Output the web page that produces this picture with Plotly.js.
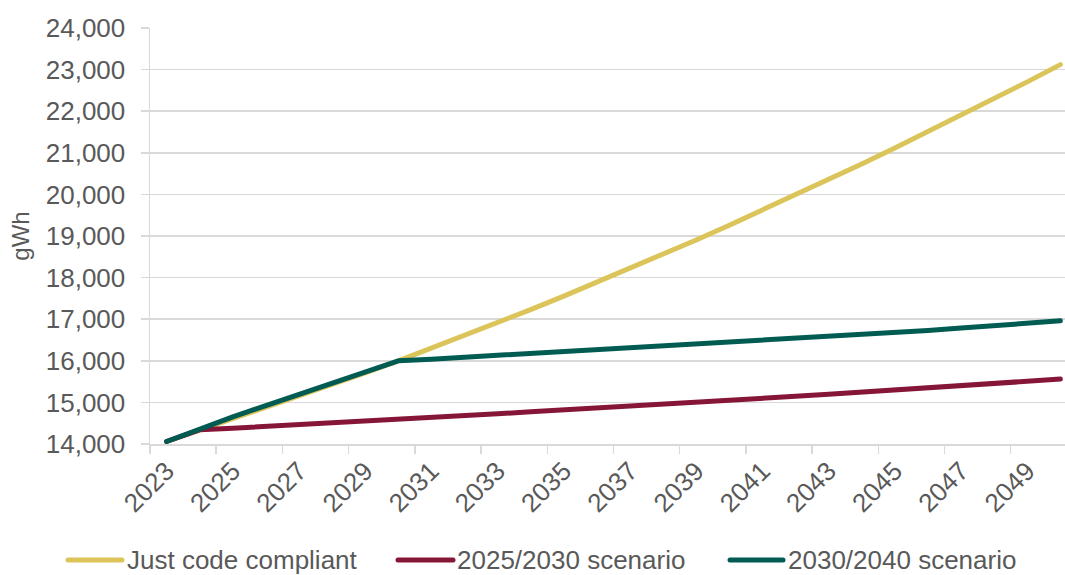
<!DOCTYPE html>
<html>
<head>
<meta charset="utf-8">
<script src="https://cdn.plot.ly/plotly-3.0.1.min.js"></script>
<style>
  html, body { margin: 0; padding: 0; background: #ffffff; }
  #chart { width: 1065px; height: 575px; }
  .scatterlayer path.js-line { stroke-linecap: round; stroke-linejoin: round; }
  .shapelayer path { stroke-linecap: round; }
</style>
</head>
<body>
<div id="chart"></div>
<script>
// Annual electricity demand projections (gWh), 2023-2050
const years = [2023, 2024, 2025, 2026, 2027, 2028, 2029, 2030, 2031, 2032,
               2033, 2034, 2035, 2036, 2037, 2038, 2039, 2040, 2041, 2042,
               2043, 2044, 2045, 2046, 2047, 2048, 2049, 2050];

const seriesNames = ["Just code compliant", "2025/2030 scenario", "2030/2040 scenario"];

const justCodeCompliant = [14060, 14330, 14600, 14870, 15150, 15430, 15710, 16000, 16300, 16600,
                           16915, 17230, 17555, 17885, 18220, 18560, 18905, 19260, 19620, 19985,
                           20355, 20730, 21115, 21505, 21900, 22300, 22705, 23120];

const scenario2025_2030 = [14060, 14340, 14380, 14420, 14460, 14500, 14545, 14590, 14635, 14680,
                           14725, 14775, 14825, 14870, 14915, 14960, 15005, 15050, 15095, 15145,
                           15195, 15245, 15295, 15345, 15400, 15450, 15505, 15560];

const scenario2030_2040 = [14060, 14370, 14650, 14925, 15200, 15470, 15740, 16000, 16040, 16085,
                           16125, 16165, 16210, 16250, 16295, 16340, 16385, 16430, 16478, 16526,
                           16575, 16625, 16675, 16730, 16786, 16842, 16900, 16960];

const seriesColors = ["#DBC55B", "#861637", "#005B52"];

// Year labels every second year; tick marks sit between categories
const xTickVals = [2023, 2025, 2027, 2029, 2031, 2033, 2035, 2037, 2039, 2041, 2043, 2045, 2047, 2049];
const xTickText = ["2023", "2025", "2027", "2029", "2031", "2033", "2035", "2037", "2039", "2041", "2043", "2045", "2047", "2049"];
const xCategoryEdges = [2022.5, 2024.5, 2026.5, 2028.5, 2030.5, 2032.5, 2034.5, 2036.5, 2038.5, 2040.5, 2042.5, 2044.5, 2046.5, 2048.5];

const yTickVals = [14000, 15000, 16000, 17000, 18000, 19000, 20000, 21000, 22000, 23000, 24000];

const FONT = "Liberation Sans, Arial, sans-serif";
const TEXT_COLOR = "#595959";
const GRID_COLOR = "#D9D9D9";

const W = 1065, H = 575;
const margin = { l: 150, r: 0, t: 28, b: 131 };
const plotW = W - margin.l - margin.r;
const plotH = H - margin.t - margin.b;

// pixel -> paper coordinates for the legend row under the axis
const px = x => (x - margin.l) / plotW;
const py = y => (H - margin.b - y) / plotH;

const valueSets = [justCodeCompliant, scenario2025_2030, scenario2030_2040];
const traces = valueSets.map((vals, i) => ({
  type: "scatter",
  mode: "lines",
  name: seriesNames[i],
  x: years,
  y: vals,
  line: { color: seriesColors[i], width: 5 },
  hoverinfo: "x+y+name",
  showlegend: false
}));

// Legend row: sample stroke then label
const legendRow = [
  { x0: 68, x1: 122, tx: 125 },
  { x0: 398, x1: 453, tx: 455 },
  { x0: 730, x1: 783, tx: 786 }
];
const legendY = 560;
const shapes = legendRow.map((r, i) => ({
  type: "line", xref: "paper", yref: "paper",
  x0: px(r.x0), x1: px(r.x1), y0: py(legendY), y1: py(legendY),
  line: { color: seriesColors[i], width: 5 }
}));
const annotations = legendRow.map((r, i) => ({
  xref: "paper", yref: "paper",
  x: px(r.tx), y: py(legendY),
  xanchor: "left", yanchor: "middle",
  text: seriesNames[i], showarrow: false,
  font: { family: FONT, size: 26, color: TEXT_COLOR }
}));

const layout = {
  width: W, height: H,
  margin: margin,
  paper_bgcolor: "#ffffff",
  plot_bgcolor: "#ffffff",
  font: { family: FONT, size: 26, color: TEXT_COLOR },
  showlegend: false,
  xaxis: {
    range: [2022.5, 2050.14],
    tickmode: "array",
    tickvals: xTickVals,
    ticktext: xTickText,
    tickangle: -45,
    ticks: "",
    showgrid: false,
    zeroline: false,
    showline: true,
    linecolor: GRID_COLOR,
    linewidth: 1.5,
    tickfont: { family: FONT, size: 26, color: TEXT_COLOR },
    minor: {
      tickmode: "array",
      tickvals: xCategoryEdges,
      ticks: "outside",
      ticklen: 8,
      tickwidth: 1.5,
      tickcolor: GRID_COLOR,
      showgrid: false
    },
    fixedrange: true
  },
  yaxis: {
    range: [14000, 24000],
    tickmode: "array",
    tickvals: yTickVals,
    tickformat: ",d",
    ticks: "outside",
    ticklen: 8,
    tickwidth: 1.5,
    tickcolor: GRID_COLOR,
    ticklabelstandoff: 10,
    showgrid: true,
    gridcolor: GRID_COLOR,
    gridwidth: 1.5,
    zeroline: false,
    showline: true,
    linecolor: GRID_COLOR,
    linewidth: 1.5,
    tickfont: { family: FONT, size: 26, color: TEXT_COLOR },
    title: { text: "gWh", font: { family: FONT, size: 24, color: TEXT_COLOR }, standoff: 9 },
    fixedrange: true
  },
  shapes: shapes,
  annotations: annotations
};

Plotly.newPlot("chart", traces, layout, { displayModeBar: false, staticPlot: true });
</script>
</body>
</html>
